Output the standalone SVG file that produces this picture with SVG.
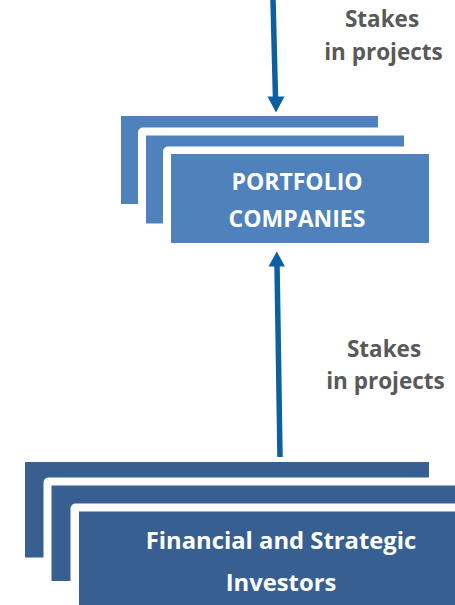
<svg xmlns="http://www.w3.org/2000/svg" width="455" height="605" viewBox="0 0 455 605">
  <defs>
    <style>
      .gap { fill: #ffffff; }
      .pc { fill: #4F81BD; }
      .inv { fill: #385F92; }
      .box-text { font-family: "Open Sans", "Liberation Sans", sans-serif; font-weight: bold; fill: #ffffff; text-anchor: middle; }
      .label { font-family: "Open Sans", "Liberation Sans", sans-serif; font-weight: bold; fill: #595959; text-anchor: middle; font-size: 22.5px; }
      .flow { stroke: #0D60A0; stroke-width: 5.5; fill: none; }
      .head { fill: #0D60A0; }
    </style>
  </defs>

  <!-- stacked portfolio companies card -->
  <g id="portfolio-companies">
    <rect class="pc" x="121" y="116" width="257" height="88"/>
    <rect class="gap" x="138" y="127.5" width="274" height="104" rx="5"/>
    <rect class="pc" x="146" y="135.5" width="258" height="88"/>
    <rect class="gap" x="163" y="146.5" width="274" height="104" rx="5"/>
    <rect class="pc" x="171" y="154" width="258" height="89"/>
    <text class="box-text" x="297" y="189.5" font-size="23">PORTFOLIO</text>
    <text class="box-text" x="297" y="226.5" font-size="23">COMPANIES</text>
  </g>

  <!-- stacked investors card -->
  <g id="investors">
    <rect class="inv" x="25" y="462" width="404" height="95.5"/>
    <rect class="gap" x="43.5" y="477.5" width="420" height="120" rx="5"/>
    <rect class="inv" x="51.5" y="485.5" width="410" height="95.5"/>
    <rect class="gap" x="70.5" y="503.5" width="400" height="120" rx="5"/>
    <rect class="inv" x="79" y="511.5" width="390" height="110"/>
    <text class="box-text" x="281" y="548.5" font-size="23.8">Financial and Strategic</text>
    <text class="box-text" x="281" y="590.5" font-size="23.8">Investors</text>
  </g>

  <!-- flow arrows -->
  <g id="connectors">
    <line class="flow" x1="273" y1="0" x2="275.5" y2="98"/>
    <polygon class="head" points="267.5,96.5 284.5,96.5 276,112.5"/>
    <line class="flow" x1="280" y1="457" x2="277" y2="264"/>
    <polygon class="head" points="268.5,266.5 285,266.5 276.8,251.5"/>
  </g>

  <!-- flow labels -->
  <g id="labels">
    <text class="label" x="382" y="26.5">Stakes</text>
    <text class="label" x="383.5" y="60">in projects</text>
    <text class="label" x="384" y="357">Stakes</text>
    <text class="label" x="385.5" y="388.5">in projects</text>
  </g>
</svg>
